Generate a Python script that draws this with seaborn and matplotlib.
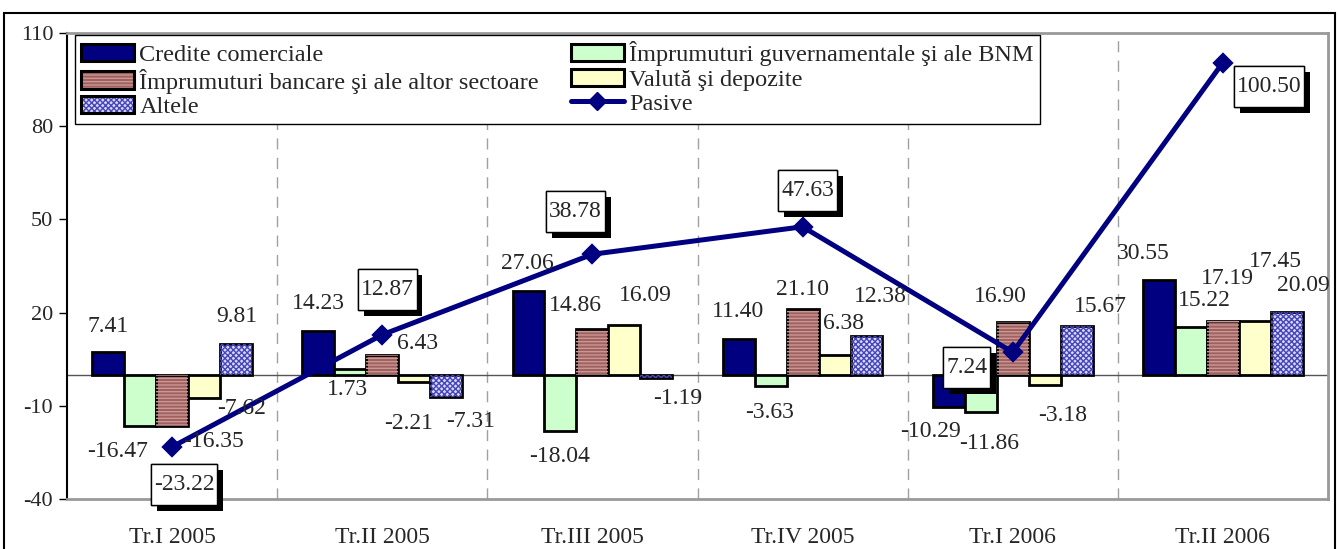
import matplotlib
matplotlib.use("Agg")
import numpy as np
import pandas as pd
import matplotlib.pyplot as plt
import matplotlib.patheffects as pe
from matplotlib.patches import Rectangle, Patch
from matplotlib.lines import Line2D
from matplotlib.path import Path
from matplotlib.legend_handler import HandlerTuple
import seaborn as sns

# data
quarters = ['Tr.I 2005', 'Tr.II 2005', 'Tr.III 2005', 'Tr.IV 2005', 'Tr.I 2006', 'Tr.II 2006']
credite = [7.41, 14.23, 27.06, 11.40, -10.29, 30.55]
guvern = [-16.47, 1.73, -18.04, -3.63, -11.86, 15.22]
bancare = [-16.35, 6.43, 14.86, 21.10, 16.90, 17.19]
valuta = [-7.62, -2.21, 16.09, 6.38, -3.18, 17.45]
altele = [9.81, -7.31, -1.19, 12.38, 15.67, 20.09]
pasive = [-23.22, 12.87, 38.78, 47.63, 7.24, 100.50]

names = ['Credite comerciale',
         'Împrumuturi guvernamentale şi ale BNM',
         'Împrumuturi bancare şi ale altor sectoare',
         'Valută şi depozite',
         'Altele']
line_name = 'Pasive'

colors = ['#000080', '#ccffcc', '#a0605e', '#ffffcc', '#d8d8fa']
hatches = [None, None, '-----', None, 'xxxxxx']
hatch_colors = [None, None, '#c89896', None, '#4646b8']
navy = '#000080'

# label placement (pixels from the bar end / point), Excel-like scatter
bar_label_offsets = [
    [(0, 25), (0, 27), (-1, 27), (-1, 28), (-18, -25), (-16, 26)],
    [(-23, -26), (-3, -20), (-1, -26), (-1, -26), (8, -32), (13, 27)],
    [(41, -16), (35, 11), (-17, 23), (0, 20), (-12, 26), (5, 43)],
    [(38, -10), (-6, -42), (21, 29), (9, 31), (18, -31), (21, 59)],
    [(1, 28), (24, -24), (21, -20), (14, 40), (24, 20), (17, 27)],
]
box_offsets = [(12, -38), (5, 45), (-17, 43), (5, 36), (-46, -15), (46, -24)]

sns.set_style('white')
plt.rcParams['font.family'] = ['Liberation Serif', 'DejaVu Serif']
plt.rcParams['axes.unicode_minus'] = False
plt.rcParams['hatch.linewidth'] = 1.0

df = pd.DataFrame({
    'Trimestru': np.tile(quarters, len(names)),
    'Serie': np.repeat(names, len(quarters)),
    'Valoare': np.concatenate([credite, guvern, bancare, valuta, altele]),
})

fig = plt.figure(figsize=(13.38, 5.49), dpi=100)
ax = fig.add_axes([67 / 1338, 1 - 499 / 549, 1261 / 1338, 466 / 549])

sns.barplot(data=df, x='Trimestru', y='Valoare', hue='Serie', hue_order=names,
            palette=colors, width=0.76, saturation=1, edgecolor='black',
            linewidth=2, errorbar=None, legend=False, ax=ax, zorder=3)

for k, cont in enumerate(ax.containers):
    vals = df.loc[df['Serie'] == names[k], 'Valoare'].tolist()
    for j, bar in enumerate(cont.patches):
        if hatches[k]:
            ax.add_patch(Rectangle(bar.get_xy(), bar.get_width(), bar.get_height(),
                                   fill=False, hatch=hatches[k], edgecolor=hatch_colors[k],
                                   linewidth=0, zorder=3.5))
        ax.annotate(f'{vals[j]:.2f}',
                    xy=(bar.get_x() + bar.get_width() / 2, bar.get_y() + bar.get_height()),
                    xytext=bar_label_offsets[k][j], textcoords='offset pixels',
                    ha='center', va='center', fontsize=17, zorder=6)

sns.pointplot(x=quarters, y=pasive, color=navy, markers='D', markersize=8.5,
              linewidth=3.6, ax=ax)
for ln in ax.lines:
    ln.set_zorder(5)


def tall_box(x0, y0, width, height, mutation_size):
    px = 0.12 * mutation_size
    py = 0.42 * mutation_size
    return Path([(x0 - px, y0 - py), (x0 + width + px, y0 - py),
                 (x0 + width + px, y0 + height + py), (x0 - px, y0 + height + py),
                 (x0 - px, y0 - py)], closed=True)


for i, v in enumerate(pasive):
    ann = ax.annotate(f'{v:.2f}', xy=(i, v), xytext=box_offsets[i], textcoords='offset pixels',
                      ha='center', va='center', fontsize=17, zorder=8,
                      bbox=dict(boxstyle=tall_box, fc='white', ec='black', lw=1))
    ann.get_bbox_patch().set_path_effects(
        [pe.withSimplePatchShadow(offset=(4.3, -4.3), shadow_rgbFace='black', alpha=1), pe.Normal()])

for i in range(len(quarters) - 1):
    ax.axvline(i + 0.5, color='#a0a0a0', lw=1, ls=(0, (8, 6)), zorder=1)
ax.axhline(0, color='#555555', lw=1, zorder=2)

ax.set_xlim(-0.5, len(quarters) - 0.5)
ax.set_ylim(-40, 110)
ax.set_yticks(np.arange(-40, 111, 30))
ax.set_xlabel('')
ax.set_ylabel('')
ax.tick_params(axis='y', left=True, direction='out', length=6, width=1, labelsize=16, pad=4, color='black')
ax.tick_params(axis='x', bottom=False, labelsize=17, pad=17)
for s in ['top', 'right', 'bottom']:
    ax.spines[s].set_color('#999999')
    ax.spines[s].set_linewidth(2)
ax.spines['left'].set_color('black')
ax.spines['left'].set_linewidth(1.5)


# legend, column-major order so rows read like the original
def bar_handle(k):
    if hatches[k]:
        return (Patch(facecolor=colors[k], hatch=hatches[k], edgecolor=hatch_colors[k], lw=0),
                Patch(fill=False, edgecolor='black', lw=2.2))
    return Patch(facecolor=colors[k], edgecolor='black', lw=2.2)


line_h = Line2D([], [], color=navy, lw=3.6, marker='D', markersize=9)
handles = [bar_handle(0), bar_handle(2), bar_handle(4), bar_handle(1), bar_handle(3), line_h]
labels = [names[0], names[2], names[4], names[1], names[3], line_name]
leg = ax.legend(handles, labels, ncol=2, loc='upper left', mode='expand',
                bbox_to_anchor=(0.0063, 0.807, 0.765, 0.1887), borderaxespad=0,
                fontsize=17.5, frameon=True, fancybox=False, framealpha=1,
                edgecolor='black', handlelength=2.2, handleheight=0.7,
                handletextpad=0.2, labelspacing=0.1, borderpad=0.25,
                handler_map={tuple: HandlerTuple(ndivide=1)})
leg.get_frame().set_linewidth(1)
leg.set_zorder(10)

# outer frame of the picture
fig.add_artist(Rectangle((4 / 1338, -0.01), 1331 / 1338, 0.986, transform=fig.transFigure,
                         fill=False, edgecolor='black', lw=1.5))

fig.savefig('out.png', dpi=100)
